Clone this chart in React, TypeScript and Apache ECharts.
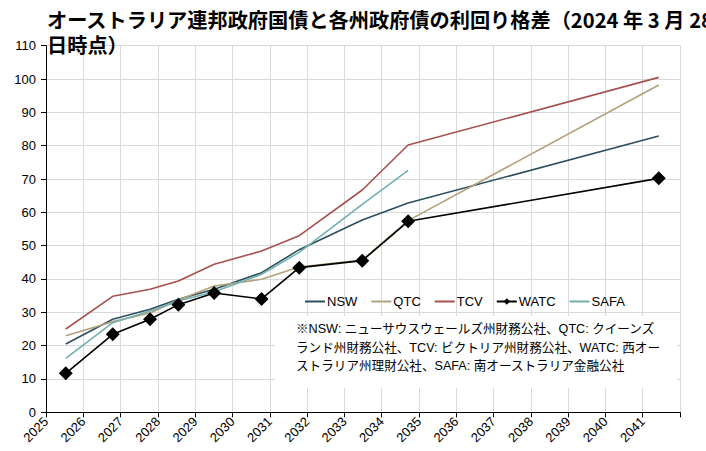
import React, { useEffect, useRef } from "react";
import * as echarts from "echarts";

const years = [2025.53, 2026.79, 2027.79, 2028.55, 2029.51, 2030.78, 2031.79, 2033.48, 2034.71, 2041.43];
const nsw = [20.5, 27.9, 30.9, 33.9, 36.9, 41.9, 48.8, 57.7, 62.8, 82.9];
const qtc = [23.0, 27.2, 29.8, 33.7, 37.9, 39.9, 43.6, 45.7, 57.5, 98.2];
const tcv = [25.0, 34.8, 36.9, 39.4, 44.4, 48.4, 53.0, 66.7, 80.2, 100.5];
const watc = [11.7, 23.4, 27.9, 32.3, 35.8, 34.0, 43.4, 45.5, 57.3, 70.2];
const safa = [16.2, 26.9, 30.4, 33.4, 36.2, 41.4, 48.0, 62.4, 72.6];

const titleLines = [
  "オーストラリア連邦政府国債と各州政府債の利回り格差（2024 年 3 月 28",
  "日時点）",
];
const noteLines = [
  "※NSW: ニューサウスウェールズ州財務公社、QTC: クイーンズ",
  "ランド州財務公社、TCV: ビクトリア州財務公社、WATC: 西オー",
  "ストラリア州理財公社、SAFA: 南オーストラリア金融公社",
];

const pair = (vals: number[]) => vals.map((v, i) => [years[i], v]);

const FONT = '"Liberation Sans", Arial, "Noto Sans CJK JP", sans-serif';

export default function App() {
  const ref = useRef<HTMLDivElement>(null);
  useEffect(() => {
    document.body.style.margin = "0";
    if (!ref.current) return;
    const chart = echarts.init(ref.current, undefined, { renderer: "svg" });
    const mk = (name: string, vals: number[], color: string, width = 1.6) => ({
      name,
      type: "line",
      data: pair(vals),
      symbol: "none",
      lineStyle: { color, width },
      itemStyle: { color },
      z: 3,
    });
    const hidden = { opacity: 0 };
    chart.setOption({
      animation: false,
      backgroundColor: "#fff",
      grid: { left: 46, right: 26, top: 45.7, bottom: 38.7, containLabel: false },
      xAxis: {
        type: "value",
        min: 2025,
        max: 2042,
        interval: 1,
        axisLine: { show: true, lineStyle: { color: "#000", width: 1 } },
        axisTick: { show: true, length: 5, lineStyle: { color: "#000" } },
        splitLine: { show: true, lineStyle: { color: "#D9D9D9", width: 1 } },
        axisLabel: {
          rotate: 45,
          fontSize: 13,
          color: "#000",
          fontFamily: FONT,
          margin: 7,
          formatter: (v: number) => (v >= 2042 ? "" : String(v)),
          showMaxLabel: true,
        },
      },
      yAxis: {
        type: "value",
        min: 0,
        max: 110,
        interval: 10,
        axisLine: { show: true, lineStyle: { color: "#000", width: 1 } },
        axisTick: { show: true, length: 5, lineStyle: { color: "#000" } },
        splitLine: { show: true, lineStyle: { color: "#D9D9D9", width: 1 } },
        axisLabel: { fontSize: 13, color: "#000", fontFamily: FONT, margin: 10 },
      },
      legend: {
        left: 304,
        top: 295,
        padding: 0,
        itemWidth: 20,
        itemHeight: 8,
        itemGap: 13,
        textStyle: { fontSize: 13, color: "#000", fontFamily: FONT, padding: [0, 0, 0, -3] },
        data: [
          { name: "NSW", itemStyle: hidden },
          { name: "QTC", itemStyle: hidden },
          { name: "TCV", itemStyle: hidden },
          { name: "WATC" },
          { name: "SAFA", itemStyle: hidden },
        ],
      },
      graphic: [
        {
          type: "rect",
          shape: { x: 275, y: 316, width: 402, height: 72 },
          style: { fill: "#fff" },
          z: 50,
        },
        ...noteLines.map((t, i) => ({
          type: "text",
          x: 296,
          y: 329 + i * 18.5,
          style: {
            text: t,
            font: `12.6px ${FONT}`,
            fill: "#000",
            verticalAlign: "middle",
          },
          z: 51,
        })),
        ...titleLines.map((t, i) => ({
          type: "text",
          x: 47,
          y: 19 + i * 25,
          style: {
            text: t,
            font: `bold 20.2px "Noto Sans CJK JP", sans-serif`,
            fill: "#000",
            verticalAlign: "middle",
          },
          z: 60,
        })),
      ],
      series: [
        mk("NSW", nsw, "#2C4E5E"),
        mk("QTC", qtc, "#B3A07C"),
        mk("TCV", tcv, "#A5514F"),
        {
          name: "WATC",
          type: "line",
          data: pair(watc),
          symbol: "diamond",
          symbolSize: 14,
          lineStyle: { color: "#000", width: 1.6 },
          itemStyle: { color: "#000" },
          z: 4,
        },
        mk("SAFA", safa, "#72B0B0"),
      ],
    });
    return () => chart.dispose();
  }, []);
  return <div ref={ref} style={{ width: 706, height: 451 }} />;
}
